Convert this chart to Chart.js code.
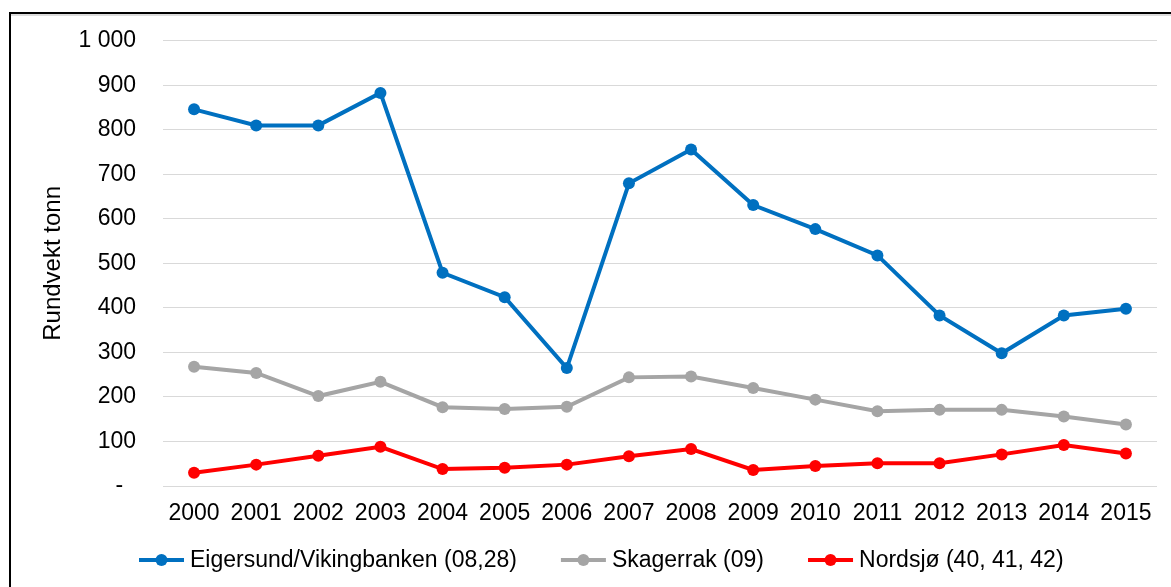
<!DOCTYPE html>
<html>
<head>
<meta charset="utf-8">
<script src="https://cdn.jsdelivr.net/npm/chart.js@4.4.1/dist/chart.umd.min.js"></script>
<style>
  html, body { margin: 0; padding: 0; background: #fff; }
  #wrap { position: relative; width: 1171px; height: 587px; }
</style>
</head>
<body>
<div id="wrap"><canvas id="c" width="1171" height="587"></canvas></div>
<script>
const years = ['2000','2001','2002','2003','2004','2005','2006','2007','2008','2009','2010','2011','2012','2013','2014','2015'];
const eigersund = [846, 810, 810, 883, 479, 424, 265, 680, 756, 631, 577, 518, 383, 298, 383, 398];
const skagerrak = [268, 254, 202, 234, 177, 173, 178, 244, 246, 220, 194, 168, 171, 171, 156, 138];
const nordsjo   = [30, 48, 68, 88, 38, 41, 48, 67, 83, 36, 45, 51, 51, 71, 92, 73];
const seriesNames = ['Eigersund/Vikingbanken (08,28)', 'Skagerrak (09)', 'Nordsjø (40, 41, 42)'];
const yTicks = [0, 100, 200, 300, 400, 500, 600, 700, 800, 900, 1000];
const yTitle = 'Rundvekt tonn';

const FONT = '"Liberation Sans", Arial, sans-serif';
const colors = ['#0070C0', '#A5A5A5', '#FF0000'];

function fmt(v) {
  if (v === 0) return '-  ';
  return String(v).replace(/\B(?=(\d{3})+(?!\d))/g, ' ');
}

const framePlugin = {
  id: 'frame',
  beforeDraw(chart) {
    const ctx = chart.ctx;
    ctx.save();
    ctx.fillStyle = '#dcdcdc';
    ctx.fillRect(11, 14, 1171 - 11, 2);
    ctx.fillStyle = '#000';
    ctx.fillRect(9, 12, 1171 - 9, 2);
    ctx.fillRect(9, 12, 2, 587 - 12);
    ctx.restore();
  }
};

const legendPlugin = {
  id: 'customLegend',
  afterDraw(chart) {
    const ctx = chart.ctx;
    ctx.save();
    ctx.font = '23px ' + FONT;
    ctx.textBaseline = 'middle';
    ctx.textAlign = 'left';
    let x = 139;
    const y = 560;
    chart.data.datasets.forEach((ds) => {
      ctx.strokeStyle = ds.borderColor;
      ctx.lineWidth = 4;
      ctx.beginPath();
      ctx.moveTo(x, y);
      ctx.lineTo(x + 45, y);
      ctx.stroke();
      ctx.fillStyle = ds.borderColor;
      ctx.beginPath();
      ctx.arc(x + 22.5, y, 6, 0, Math.PI * 2);
      ctx.fill();
      ctx.fillStyle = '#000';
      ctx.fillText(ds.label, x + 51, y + 1);
      const w = ctx.measureText(ds.label).width;
      x += 51 + w + 44;
    });
    ctx.restore();
  }
};

function mkDs(label, data, color) {
  return {
    label, data,
    borderColor: color, backgroundColor: color,
    borderWidth: 4,
    pointRadius: 6, pointHoverRadius: 6,
    pointBackgroundColor: color, pointBorderWidth: 0,
    tension: 0
  };
}

new Chart(document.getElementById('c'), {
  type: 'line',
  data: {
    labels: years,
    datasets: [
      mkDs(seriesNames[0], eigersund, colors[0]),
      mkDs(seriesNames[1], skagerrak, colors[1]),
      mkDs(seriesNames[2], nordsjo, colors[2])
    ]
  },
  options: {
    responsive: false,
    animation: false,
    layout: { padding: { left: 0, right: 14, top: 38, bottom: 51 } },
    plugins: { legend: { display: false }, tooltip: { enabled: false } },
    scales: {
      x: {
        offset: true,
        grid: { display: false, drawTicks: false },
        border: { display: false },
        ticks: { color: '#000', font: { family: FONT, size: 23 }, padding: 14, maxRotation: 0, autoSkip: false },
        afterFit(scale) { scale.height = 50; }
      },
      y: {
        min: 0, max: 1000,
        afterBuildTicks(scale) { scale.ticks = yTicks.map(v => ({ value: v })); },
        grid: { color: '#d9d9d9', lineWidth: 1, drawTicks: false },
        border: { display: false },
        ticks: { color: '#000', font: { family: FONT, size: 23 }, padding: 27, callback: (v) => fmt(v) },
        title: { display: true, text: yTitle, color: '#000', font: { family: FONT, size: 24 }, padding: { top: 39, bottom: 0 } },
        afterFit(scale) { scale.width = 163; }
      }
    }
  },
  plugins: [framePlugin, legendPlugin]
});
</script>
</body>
</html>
